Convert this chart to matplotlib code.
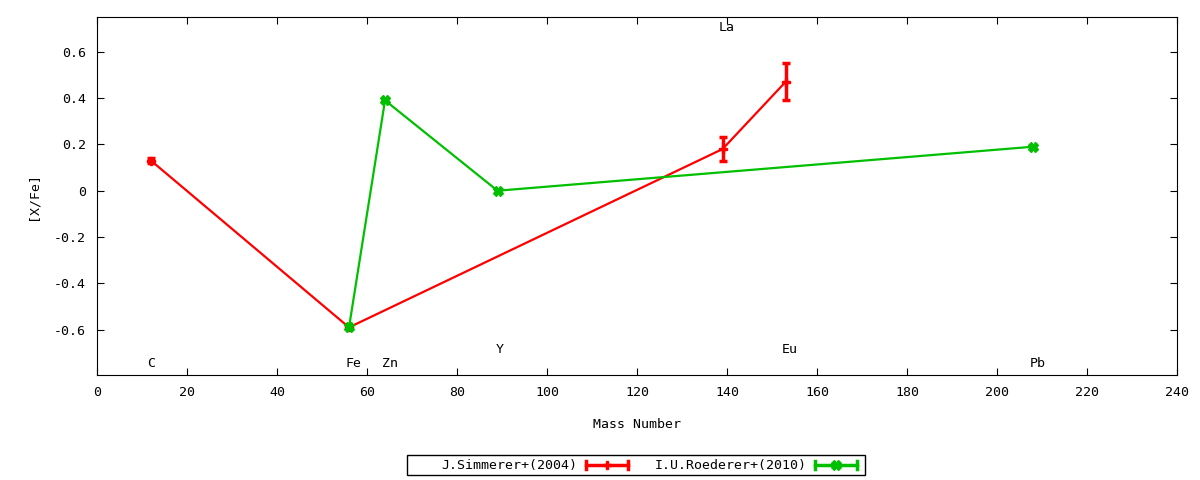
import matplotlib
matplotlib.use("Agg")
from matplotlib import pyplot as plt
from matplotlib.lines import Line2D
from matplotlib.patches import Rectangle

# J.Simmerer+(2004)
sim_mass = [12, 56, 139, 153]
sim_val = [0.13, -0.59, 0.18, 0.47]
sim_err = [0.01, 0.0, 0.05, 0.08]

# I.U.Roederer+(2010)
roe_mass = [56, 64, 89, 208]
roe_val = [-0.59, 0.39, 0.0, 0.19]
roe_err = [0.0, 0.0, 0.0, 0.0]

# element labels
el_names = ["C", "Fe", "Zn", "Y", "La", "Eu", "Pb"]
el_x = [12, 57, 65, 89.5, 140, 154, 209]
el_y = [-0.745, -0.745, -0.745, -0.685, 0.705, -0.685, -0.745]

plt.rcParams['font.family'] = ['DejaVu Sans Mono']
plt.rcParams['font.size'] = 9.5

fig = plt.figure(figsize=(12, 4.8), dpi=100)
ax = fig.add_axes([0.0808, 0.219, 0.9002, 0.7456])

red = '#ff0000'
green = '#00c000'

series = [
    (sim_mass, sim_val, sim_err, red, 'P', 6, 'J.Simmerer+(2004)'),
    (roe_mass, roe_val, roe_err, green, 'X', 7, 'I.U.Roederer+(2010)'),
]

for m, v, e, c, mk, ms, lab in series:
    ax.errorbar(m, v, yerr=e, color=c, lw=1.6, marker=mk, ms=ms,
                elinewidth=2.5, capsize=3, capthick=2.5)

for n, x, y in zip(el_names, el_x, el_y):
    ax.text(x, y, n, ha='center', va='center')

ax.set_xlim(0, 240)
ax.set_ylim(-0.795, 0.75)
ax.set_xticks(range(0, 241, 20))
ax.set_yticks([-0.6, -0.4, -0.2, 0, 0.2, 0.4, 0.6])
ax.set_yticklabels(['-0.6', '-0.4', '-0.2', '0', '0.2', '0.4', '0.6'])
ax.tick_params(direction='in', top=True, right=True, length=5, pad=8)
ax.set_xlabel('Mass Number', labelpad=14)
ax.set_ylabel('[X/Fe]', labelpad=10)

# gnuplot-style key box at the bottom
W, H = 1200.0, 480.0
fig.patches.append(Rectangle((407 / W, 1 - 475 / H), 458 / W, 20 / H, transform=fig.transFigure,
                             fill=False, edgecolor='black', lw=1))
yk = 1 - 465 / H
for (m, v, e, c, mk, ms, lab), tx, hx in zip(series, [577, 807], [586, 815]):
    fig.text(tx / W, yk, lab, ha='right', va='center')
    x0, x1 = hx / W, (hx + 42) / W
    fig.lines.append(Line2D([x0, x1], [yk, yk], transform=fig.transFigure, color=c, lw=2.5))
    for xc in (x0, x1):
        fig.lines.append(Line2D([xc, xc], [yk - 4 / H, yk + 4 / H], transform=fig.transFigure,
                                color=c, lw=2.5))
    fig.lines.append(Line2D([(x0 + x1) / 2], [yk], transform=fig.transFigure, color=c,
                            marker=mk, ms=ms, lw=0))

fig.savefig('out.png', dpi=100)
